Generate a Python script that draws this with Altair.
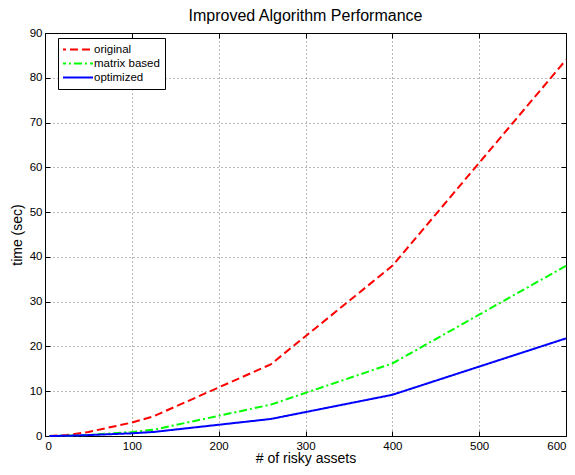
import altair as alt
import pandas as pd

assets = [5, 25, 50, 100, 125, 260, 400, 600]
original = [0.0, 0.2, 0.9, 3.0, 4.4, 16.0, 38.0, 84.0]
matrix_based = [0.0, 0.05, 0.25, 0.9, 1.4, 7.0, 16.2, 38.0]
optimized = [0.0, 0.05, 0.2, 0.6, 0.9, 3.8, 9.2, 21.8]
names = ["original", "matrix based", "optimized"]
colors = ["#ff0000", "#00ff00", "#0000ff"]
x_ticks = [0, 100, 200, 300, 400, 500, 600]
y_ticks = [0, 10, 20, 30, 40, 50, 60, 70, 80, 90]

rows = []
for name, vals in zip(names, [original, matrix_based, optimized]):
    for a, v in zip(assets, vals):
        rows.append({"assets": a, "time": v, "series": name})
df = pd.DataFrame(rows)

FONT = "Liberation Sans"
xscale = alt.Scale(domain=[0, 600], nice=False, zero=False)
yscale = alt.Scale(domain=[0, 90], nice=False)

axis_common = dict(
    domain=False, tickColor="black", tickSize=5, offset=-5, tickWidth=1,
    labelFont=FONT, labelFontSize=11.5, labelColor="black",
    grid=True, gridColor="black", gridOpacity=0.55, gridDash=[1, 3],
    titleFont=FONT, titleFontSize=14, titleFontWeight="normal", titleColor="black",
)

legend = alt.Legend(
    title=None, orient="none", legendX=13, legendY=5,
    strokeColor="black", fillColor="white", padding=5,
    symbolType="stroke", symbolSize=1225, symbolStrokeWidth=2,
    symbolOffset=-6, clipHeight=13, rowPadding=1,
    labelFont=FONT, labelFontSize=11.5, labelColor="black",
    labelOffset=0,
)

lines = alt.Chart(df).mark_line(strokeWidth=2).encode(
    x=alt.X("assets:Q", scale=xscale,
            axis=alt.Axis(title="# of risky assets", values=x_ticks,
                          labelPadding=4, titlePadding=0, **axis_common)),
    y=alt.Y("time:Q", scale=yscale,
            axis=alt.Axis(title="time (sec)", values=y_ticks,
                          labelPadding=3, titlePadding=5, **axis_common)),
    color=alt.Color("series:N", scale=alt.Scale(domain=names, range=colors), legend=legend),
    strokeDash=alt.StrokeDash("series:N",
                              scale=alt.Scale(domain=names, range=[[8, 4], [8, 3, 2, 3], [1, 0]]),
                              legend=legend),
    order=alt.Order("assets:Q"),
)

frame_axis = dict(domain=False, tickColor="black", tickSize=5, offset=-5, labels=False,
                  grid=False, title=None)
frame = alt.Chart(df).mark_line(opacity=0).encode(
    x=alt.X("assets:Q", scale=xscale,
            axis=alt.Axis(orient="top", values=x_ticks, **frame_axis)),
    y=alt.Y("time:Q", scale=yscale,
            axis=alt.Axis(orient="right", values=y_ticks, **frame_axis)),
    detail="series:N",
)

chart = alt.layer(lines, frame).resolve_axis(x="independent", y="independent").properties(
    width=521, height=403,
    title=alt.TitleParams("Improved Algorithm Performance", font=FONT, fontSize=16,
                          fontWeight="normal", color="black", offset=3),
    autosize=alt.AutoSizeParams(type="none"),
    padding={"left": 37, "top": 25, "right": 1, "bottom": 31},
).configure_view(stroke="black", strokeWidth=1)

chart.save("out.html", embed_options={"renderer": "svg", "actions": False})
